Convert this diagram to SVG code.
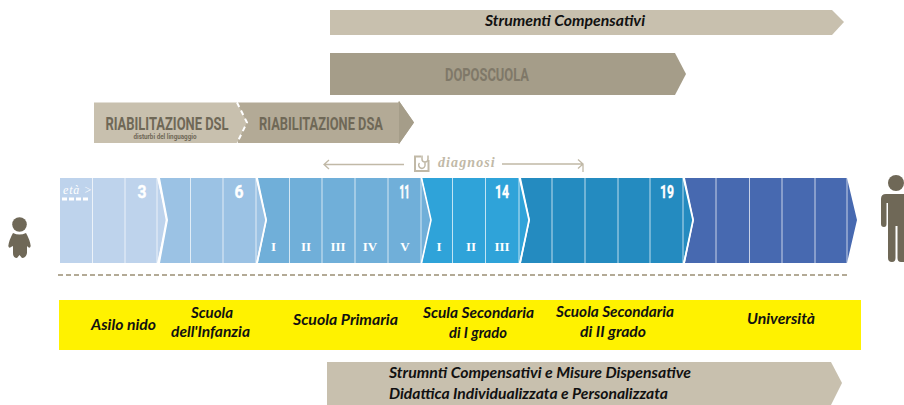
<svg xmlns="http://www.w3.org/2000/svg" width="904" height="405" viewBox="0 0 904 405">
<style>
.lab{font-family:"Lato","Open Sans",sans-serif;font-weight:700;font-style:italic;font-size:14.500px;fill:#111;text-anchor:middle}
.num{font-family:"Roboto","Liberation Sans",sans-serif;font-weight:700;font-size:19px;fill:#fff;stroke:#fff;stroke-width:.4;text-anchor:middle}
.rom{font-family:"Liberation Serif",serif;font-weight:700;font-size:13px;fill:#fff;text-anchor:middle}
.big{font-family:"Roboto","Liberation Sans",sans-serif;font-weight:700;font-size:19px;fill:#6f6857;text-anchor:middle}
.div{stroke:#fff;stroke-opacity:.7;stroke-width:1;fill:none}
.chev{stroke:#fff;stroke-width:1.600;fill:none}
.diag{stroke:#c1b9a7;stroke-width:1.300;fill:none}
.person{fill:#6f6857}
</style>
<rect width="904" height="405" fill="#fff"/>
<g id="band-strumenti"><polygon points="330,10 832,10 844,22 832,35 330,35" fill="#c8c0ae"/><text class="lab" x="565" y="26" textLength="160" lengthAdjust="spacingAndGlyphs">Strumenti Compensativi</text></g>
<g id="band-doposcuola"><polygon points="330,53 675,53 686,74 675,95 330,95" fill="#a59d89"/><text class="big" transform="translate(487,81) scale(.75,1)" textLength="112" lengthAdjust="spacingAndGlyphs" style="font-size:18px;fill:#7f7868">DOPOSCUOLA</text></g>
<g id="band-riabilitazione">
<polygon points="238,102.500 398,102.500 399,101 414,122.500 399,144 398,143 238,143" fill="#b3aa96"/>
<polygon points="399,101 414,122.500 399,144" fill="#a59d89"/>
<polygon points="94,102.500 237,102.500 247,122.500 237,143 94,143" fill="#c8c0ae"/>
<path d="M237,102.500 L247,122.500 L237,143" stroke="#fff" stroke-width="2" stroke-dasharray="5 4" fill="none"/>
<text class="big" transform="translate(167,129.500) scale(.7,1)" textLength="176" lengthAdjust="spacingAndGlyphs">RIABILITAZIONE DSL</text>
<text x="165" y="139" font-family="Roboto,sans-serif" font-weight="700" font-size="6.500" fill="#6f6857" text-anchor="middle" textLength="63" lengthAdjust="spacingAndGlyphs">disturbi del linguaggio</text>
<text class="big" transform="translate(321,129.500) scale(.7,1)" textLength="177" lengthAdjust="spacingAndGlyphs">RIABILITAZIONE DSA</text>
</g>
<g id="diagnosi">
<path class="diag" d="M404,164.500 H324 M329,160 L324,164.500 L329,169"/>
<path class="diag" d="M502,164 H583 M578,159.500 L583,164 L578,168.500 M583,164 V172"/>
<path d="M421,156.500 H415 V171 H428.500 V160" fill="none" stroke="#c1b9a7" stroke-width="2"/>
<path d="M422,155.500 V159 Q422,162 425,162 Q428,162 428,159 V155.500 M425,162 V164.500 A3.200,3.200 0 1 1 419.500,163" fill="none" stroke="#c1b9a7" stroke-width="1.500"/>
<text x="438" y="167" font-family="Liberation Serif,serif" font-weight="700" font-style="italic" font-size="14" fill="#c1b9a7" letter-spacing="1.100">diagnosi</text>
</g>
<g id="timeline">
<polygon points="685,178 847,178 857,220 847,263 685,263 694,220" fill="#4769b0"/>
<polygon points="521,178 683,178 693,220 683,263 521,263 530,220" fill="#248bc0"/>
<polygon points="422,178 519,178 529,220 519,263 422,263 431,220" fill="#2fa3d9"/>
<polygon points="258,178 421,178 431,220 421,263 258,263 267,220" fill="#70afd9"/>
<polygon points="160,178 256,178 266,220 256,263 160,263 168,220" fill="#9bc2e4"/>
<polygon points="60,178 157,178 167,220 157,263 60,263" fill="#bed3ec"/>
<path class="div" d="M92.500,178V263 M125,178V263 M157,178V263 M190.500,178V263 M223,178V263 M256,178V263 M289.500,178V263 M322,178V263 M355,178V263 M388,178V263 M421,178V263 M452.500,178V263 M485.500,178V263 M519,178V263 M552,178V263 M585,178V263 M618,178V263 M650,178V263 M683,178V263 M716,178V263 M749.500,178V263 M782,178V263 M815,178V263 M847,178V263"/>
<path class="chev" d="M158.500,178 L166.500,220 L158.500,263 M256.500,178 L266,220 L257,263 M421.500,178 L431,220 L421.500,263 M519.500,178 L529,220 L520,263 M683.500,178 L693,220 L684,263"/>
<text x="63" y="194" font-family="Liberation Serif,serif" font-style="italic" font-size="12" fill="#fff" letter-spacing=".8">età &gt;</text>
<path d="M62,199 H89" stroke="#fff" stroke-width="3" stroke-dasharray="5 2"/>
<text class="num" x="142" y="198" textLength="9" lengthAdjust="spacingAndGlyphs">3</text>
<text class="num" x="239" y="198" textLength="9" lengthAdjust="spacingAndGlyphs">6</text>
<text class="num" x="404.500" y="198" textLength="10" lengthAdjust="spacingAndGlyphs" style="stroke-width:.8">11</text>
<text class="num" x="502" y="198" textLength="14" lengthAdjust="spacingAndGlyphs">14</text>
<text class="num" x="667" y="198" textLength="14" lengthAdjust="spacingAndGlyphs">19</text>
<text class="rom" x="273.500" y="251">I</text>
<text class="rom" x="306" y="251">II</text>
<text class="rom" x="338" y="251">III</text>
<text class="rom" x="370" y="251">IV</text>
<text class="rom" x="405" y="251">V</text>
<text class="rom" x="439" y="251">I</text>
<text class="rom" x="471" y="251">II</text>
<text class="rom" x="502" y="251">III</text>
</g>
<path id="separator" d="M58,275 H848" stroke="#b3aa96" stroke-width="2" stroke-dasharray="5 3"/>
<g id="child" class="person">
<circle cx="19.500" cy="224.500" r="7.300"/>
<path d="M13,233 Q19.500,236 26,233 Q30,240 30.700,246 Q30,249 28,247 L27,246 V253 Q26,258 22,258 L19.500,255 L17,258 Q13,258 13,253 V246 L11,247 Q9,249 8.300,246 Q9,240 13,233Z"/>
</g>
<g id="adult" class="person">
<circle cx="896" cy="183" r="8"/>
<path d="M886,194 H904 V262 H901 Q897.500,262 897.500,258 V226 H895.500 V258 Q895.500,262 892,262 Q888,262 888,258 V203 H886.500 V224 Q886.500,227 884,227 Q881,227 881,224 V199 Q881,194 886,194Z"/>
</g>
<g id="levels">
<rect x="59" y="300" width="802" height="50" fill="#fff200"/>
<text class="lab" x="123.500" y="330" textLength="65" lengthAdjust="spacingAndGlyphs">Asilo nido</text>
<text class="lab" x="212" y="318" textLength="42" lengthAdjust="spacingAndGlyphs">Scuola</text>
<text class="lab" x="210.500" y="337" textLength="79" lengthAdjust="spacingAndGlyphs">dell'Infanzia</text>
<text class="lab" x="345.500" y="325" textLength="105" lengthAdjust="spacingAndGlyphs">Scuola Primaria</text>
<text class="lab" x="478.500" y="318" textLength="111" lengthAdjust="spacingAndGlyphs">Scula Secondaria</text>
<text class="lab" x="478" y="338" textLength="58" lengthAdjust="spacingAndGlyphs">di I grado</text>
<text class="lab" x="615" y="317" textLength="118" lengthAdjust="spacingAndGlyphs">Scuola Secondaria</text>
<text class="lab" x="613" y="337" textLength="66" lengthAdjust="spacingAndGlyphs">di II grado</text>
<text class="lab" x="781" y="324" textLength="68" lengthAdjust="spacingAndGlyphs">Università</text>
</g>
<g id="band-strumenti-misure">
<polygon points="327,362 831,362 842,383 831,405 327,405" fill="#c8c0ae"/>
<text class="lab" x="389" y="378" style="text-anchor:start" textLength="302" lengthAdjust="spacingAndGlyphs">Strumnti Compensativi e Misure Dispensative</text>
<text class="lab" x="389" y="399" style="text-anchor:start" textLength="279" lengthAdjust="spacingAndGlyphs">Didattica Individualizzata e Personalizzata</text>
</g>
</svg>
